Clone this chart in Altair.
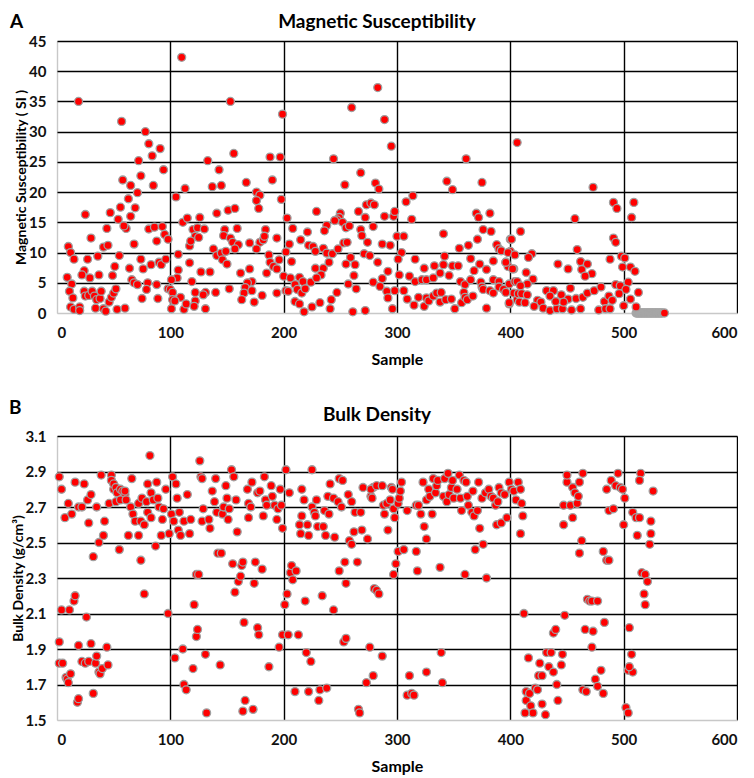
import altair as alt
import pandas as pd

# ---------------- Panel A: Magnetic Susceptibility (sample, value) ----------------
ms_0_100 = [(19,35),(57,31.7),(78,30),(81,28),(84,26),(91,27.2),(72,25.2),(94,23.7),(58,22),(74,22.7),(65,21.1),(85,21.1),
    (71,19.9),(63,18.9),(56,17.5),(69,17.4),(25,16.3),(47,16.6),(54,15.5),(65,16),(61,14),(59,14.4),(44,14),(30,12.4),
    (10,11),(12,10),(15,8.9),(27,8.9),(36,9.4),(41,10.9),(45,11.2),(55,9.5),(68,11.4),(81,13.9),(86,14.2),(93,14.3),
    (88,11.9),(95,13),(98,12.2),(74,8.9),(64,7.4),(83,8),(90,8.4),(92,8),(96,8.9),(24,7),(22,6.3),(37,6.3),(49,6.2),
    (51,7.7),(9,5.9),(13,4.8),(29,5.8),(66,5.5),(76,7.3),(68,5),(71,4.7),(80,5),(79,3.9),(88,4.7),(11,3.6),(14,2.5),
    (12,1),(15,0.6),(20,1),(20,0.4),(24,3.6),(25,2.8),(28,2.9),(31,3.6),(33,2.8),(35,2.2),(38,2.4),(39,3.6),(34,0.8),
    (41,0.7),(43,0.3),(46,1.8),(48,2.6),(50,3.3),(52,4),(53,0.6),(60,0.8),(75,2.4),(89,2.4)]
ms_100_200 = [(110,42.3),(105,19.2),(113,20.6),(133,25.2),(143,23.7),(156,26.4),(153,35),(137,20.9),(145,21.1),(167,21.6),
    (176,20),(179,19.5),(176,18.6),(178,17.3),(190,22),(188,25.8),(197,25.8),(199,32.9),(198,18.8),(141,16.5),(151,17),
    (157,17.3),(111,15),(115,15.7),(126,15.8),(120,13.8),(124,14.1),(130,13.9),(122,12.7),(117,11.1),(118,11.9),(125,12.5),
    (107,9.7),(117,8.3),(127,6.8),(135,6.8),(138,10.6),(148,13.8),(147,12.8),(153,12.4),(159,14),(155,11.7),(160,11.3),
    (157,10.6),(170,11.6),(179,11.7),(182,12.1),(184,13.8),(183,12.7),(194,12.4),(141,9.5),(145,9.9),(149,10.2),(146,8.8),
    (150,8.1),(162,6.6),(170,7.3),(176,10.6),(187,9.6),(188,8.4),(191,7.7),(194,7.3),(196,8.8),(185,6.6),(172,5.2),(168,5),
    (166,4.2),(165,3.3),(172,3.7),(163,2.2),(174,1.8),(181,2.9),(194,3.3),(152,4),(140,3.4),(131,3.4),(107,7.1),(106,5.8),
    (101,5.5),(98,4),(100,3.9),(102,3.4),(109,2.6),(102,2.2),(104,2),(101,0.7),(112,0.6),(114,1.5),(119,5.2),(122,3.4),
    (122,2),(121,1.1),(131,0.7),(129,3)]
ms_200_400 = [(260,34),(283,37.3),(289,32),(295,27.6),(244,25.5),(361,25.5),(406,28.2),(268,23.2),(254,21.2),(281,21.5),
    (284,20.5),(344,21.8),(349,20.4),(375,21.6),(229,16.8),(250,16.5),(249,15.8),(247,15.4),(266,16.8),(273,17.9),(277,18.2),
    (280,17.9),(272,15.8),(289,16),(297,16),(298,16.8),(308,18.4),(314,19.4),(313,15.5),(370,16.5),(372,15.8),(382,16.5),
    (203,15.7),(208,14),(221,13.4),(238,14.5),(236,13.6),(245,15.3),(252,15),(255,14.1),(258,14.4),(268,13.8),(269,12.8),
    (279,14.3),(253,11.6),(256,11.7),(274,11.7),(287,11.4),(294,11.2),(300,12.7),(306,12.7),(341,13.1),(376,13.8),(383,13.5),
    (355,10.7),(363,11.2),(371,12.2),(388,11.3),(390,10.6),(400,10.2),(400,12.2),(205,11.4),(202,10.1),(215,12.1),(222,11.2),
    (226,11),(228,10.2),(235,10.7),(238,9.9),(243,9.8),(248,10.6),(259,9.2),(271,9.8),(276,9.5),(304,10),(301,8.9),(207,8.5),
    (228,7.4),(235,7.4),(240,8.4),(255,8.1),(263,8),(283,8.4),(292,6.9),(316,8.9),(324,7.4),(333,7.8),(342,9.4),(341,8),
    (349,7.8),(354,7.8),(365,9),(373,8.1),(379,7.2),(385,8.6),(396,8.4),(398,7.7),(403,7.3),(200,6.1),(206,5.8),(214,5.9),
    (217,5.2),(224,5.1),(233,6.3),(229,5.8),(262,6.2),(287,5.7),(302,6.3),(311,6.1),(316,5.2),(322,5.5),(326,5.5),(332,5.8),
    (338,6.6),(346,6.2),(356,5.2),(360,4.7),(365,5.5),(368,7),(374,5.1),(385,5.5),(390,5.2),(399,4.8),(404,5.2),(202,3.7),
    (204,3.6),(210,4.7),(212,3.9),(216,3.3),(219,4),(210,1.9),(214,1.5),(218,0.2),(225,1),(232,1.7),(241,0.7),(242,2.2),
    (247,3.4),(257,4.8),(264,4),(261,0.2),(272,0.4),(279,5.1),(285,4.4),(291,3.6),(292,2.5),(296,0.7),(298,3.7),(306,3.7),
    (309,2.3),(315,1.3),(319,2.6),(324,1.1),(326,2.5),(328,2),(332,2.8),(335,3.3),(338,1.8),(339,3.4),(343,2.2),(348,2.3),
    (351,0.7),(357,1.7),(359,3.4),(360,2.6),(362,2.2),(367,2.8),(375,4.3),(376,3.9),(379,0.8),(382,3.7),(385,3.3),(390,4.3),
    (394,3.9),(399,1.5),(403,3.3),(406,2.2)]
ms_400_540 = [(473,20.8),(491,18.3),(494,17.3),(509,18.3),(457,15.6),(507,15.8),(409,13.5),(401,12.2),(491,12.4),(493,11.7),
    (459,10.5),(498,9.4),(501,9.1),(488,8.9),(392,10.3),(398,10),(404,9.6),(419,9.8),(416,9.2),(396,8.4),(402,7.3),(442,8.1),
    (451,7.3),(462,8.5),(468,8.1),(463,7.2),(472,6.5),(466,6.1),(499,7.6),(506,7.6),(510,6.9),(414,6.7),(420,5.6),(415,4.8),
    (406,5.2),(409,4.5),(396,3.4),(407,3.2),(410,3.2),(415,3),(424,2.1),(399,1.7),(408,1.8),(413,1.7),(427,1.8),(432,3.7),
    (438,3.7),(435,2.8),(445,3),(453,4.1),(451,2.3),(458,2.4),(464,2.6),(468,3.3),(474,3.7),(480,4.3),(483,1.9),(487,2.8),
    (490,2.1),(493,4.7),(497,4.5),(504,5.1),(502,3.9),(496,3.2),(506,2.3),(500,1.2),(513,3.4),(511,1),(429,0.8),(435,0.4),
    (441,0.7),(446,0.7),(454,0.5),(462,0.7),(478,0.5),(484,0.7),(488,0.7),(447,1.8),(440,1.9),(421,1.1),(536,0)]
ms_zero_samples = [511,512,513,514,515,516,517,518,519,520,521,522,523,524,525,526,527,528,529,530,531,532,533,534]

# ---------------- Panel B: Bulk Density (sample, g/cm3) ----------------
bd_0_100 = [(2,1.82),(2,1.94),(4,2.12),(5,1.82),(8,1.74),(9,1.73),(10,1.71),(11,2.12),(12,1.76),(15,2.17),(16,2.2),(18,1.6),
    (19,1.62),(19,1.92),(22,1.83),(25,1.82),(26,2.08),(28,1.83),(30,1.93),(32,1.65),(34,1.82),(35,1.86),(37,1.77),(38,1.76),
    (40,1.79),(44,1.91),(45,1.81),(2,2.87),(4,2.8),(7,2.64),(10,2.72),(13,2.66),(16,2.84),(19,2.7),(22,2.7),(24,2.83),(27,2.74),
    (28,2.61),(30,2.77),(32,2.42),(35,2.7),(37,2.5),(39,2.88),(42,2.62),(41,2.54),(46,2.72),(48,2.88),(48,2.85),(50,2.8),
    (50,2.83),(52,2.81),(53,2.78),(52,2.73),(56,2.8),(55,2.46),(58,2.79),(60,2.77),(56,2.74),(61,2.74),(60,2.79),(65,2.7),
    (66,2.86),(63,2.54),(67,2.66),(69,2.62),(72,2.72),(72,2.54),(74,2.4),(74,2.62),(75,2.75),(77,2.6),(77,2.21),(79,2.73),
    (80,2.67),(82,2.99),(80,2.83),(83,2.64),(83,2.78),(87,2.48),(85,2.74),(88,2.84),(89,2.75),(90,2.7),(92,2.54),(94,2.69),
    (96,2.8),(93,2.63),(98,2.1),(99,2.55)]
bd_100_200 = [(101,2.66),(102,2.87),(103,2.62),(104,1.85),(105,2.83),(106,2.75),(108,2.67),(107,2.57),(109,2.54),(111,1.9),
    (112,1.7),(114,1.67),(112,2.62),(115,2.77),(117,2.55),(118,2.63),(120,1.79),(121,2.15),(123,2.32),(125,2.32),(123,1.97),
    (124,2.01),(126,2.96),(127,2.87),(128,2.62),(129,2.69),(128,2.86),(131,1.87),(132,1.54),(134,2.63),(135,2.58),(137,2.79),
    (139,2.73),(140,2.86),(141,2.67),(144,1.81),(142,2.44),(145,2.44),(146,2.66),(147,2.7),(149,2.82),(150,2.75),(151,2.63),
    (152,2.69),(154,2.91),(155,2.38),(156,2.87),(158,2.74),(159,2.56),(157,2.22),(160,2.28),(162,2.31),(163,2.37),(164,2.39),
    (164,1.55),(165,2.05),(166,1.61),(168,2.8),(169,2.72),(171,2.7),(172,2.84),(169,2.64),(174,2.27),(175,2.39),(173,1.56),
    (177,2.78),(177,2.02),(178,1.98),(179,2.79),(181,2.35),(182,2.65),(183,2.87),(184,2.74),(185,2.71),(187,1.8),(189,2.82),
    (190,2.76),(192,2.71),(194,2.63),(195,2.69),(196,1.91),(197,2.8),(198,2.71),(199,2.58),(199,1.98)]
bd_200_300 = [(201,2.15),(202,2.91),(203,2.21),(204,1.98),(205,2.78),(206,2.33),(207,2.37),(208,2.29),(210,1.66),(211,2.34),
    (213,1.98),(214,2.6),(215,2.55),(216,2.65),(216,2.8),(218,2.74),(219,2.17),(220,1.88),(221,2.6),(222,2.54),(222,1.66),
    (224,1.83),(225,2.91),(225,2.7),(227,2.67),(228,2.65),(229,2.74),(230,2.59),(231,1.61),(232,1.67),(234,2.2),(235,2.59),
    (236,2.68),(237,2.54),(238,1.68),(239,2.76),(240,2.66),(241,2.83),(244,2.12),(244,2.75),(245,2.53),(248,2.73),(249,2.34),
    (249,2.86),(252,2.85),(251,2.7),(253,1.94),(254,2.39),(255,1.96),(255,2.27),(257,2.77),(258,2.51),(260,2.49),(260,2.73),
    (262,2.56),(263,2.67),(265,2.39),(266,1.56),(267,1.54),(268,2.67),(269,2.57),(270,2.81),(273,1.71),(274,2.52),(276,1.91),
    (277,2.76),(279,1.75),(279,2.81),(280,2.24),(282,2.23),(284,2.21),(287,1.86),(277,2.8),(282,2.82),(287,2.82),(278,2.75),
    (288,2.71),(289,2.66),(291,2.72),(292,2.57),(294,2.74),(295,2.81),(296,2.8),(298,2.64),(297,2.69)]
bd_300_400 = [(301,2.72),(302,2.75),(303,2.79),(304,2.84),(301,2.45),(306,2.46),(299,2.38),(297,2.32),(309,2.68),(311,1.75),
    (309,1.64),(313,1.65),(315,1.64),(317,2.45),(318,2.34),(317,2.71),(319,2.71),(321,2.66),(323,2.84),(324,2.59),(326,2.74),
    (326,2.52),(326,1.77),(328,2.8),(329,2.76),(331,2.66),(332,2.86),(334,2.78),(335,2.82),(336,2.85),(338,2.36),(339,1.88),
    (340,1.71),(341,2.76),(342,2.86),(344,2.73),(345,2.89),(346,2.77),(348,2.81),(349,2.85),(350,2.75),(353,2.8),(355,2.88),
    (356,2.75),(357,2.68),(360,2.32),(359,2.85),(361,2.84),(362,2.76),(363,2.71),(366,2.67),(367,2.79),(368,2.65),(369,2.46),
    (372,2.84),(371,2.68),(373,2.58),(375,2.75),(376,2.49),(378,2.78),(379,2.3),(381,2.8),(383,2.76),(385,2.75),(387,2.71),
    (388,2.6),(389,2.73),(390,2.81),(392,2.78),(392,2.61),(395,2.77),(397,2.64),(399,2.84)]
bd_400_530 = [(401,2.8),(403,2.79),(405,2.74),(407,2.84),(409,2.8),(410,2.72),(411,2.65),(409,2.55),(412,2.1),(414,1.66),
    (416,1.85),(414,1.61),(417,1.65),(418,1.58),(420,1.54),(413,1.54),(422,1.68),(424,1.67),(426,1.82),(428,1.59),(425,1.75),
    (428,1.75),(431,1.53),(432,1.88),(434,1.8),(436,1.88),(438,1.77),(438,1.99),(440,2.01),(441,1.7),(442,1.61),(445,1.81),
    (446,1.87),(447,2.6),(447,2.71),(448,2.09),(450,2.84),(450,2.88),(453,2.71),(455,2.64),(455,2.81),(457,2.78),(459,2.72),
    (460,2.76),(461,2.84),(464,2.89),(463,2.51),(461,2.44),(466,2.01),(468,2.18),(470,2.17),(472,2.17),(473,2),(472,1.91),
    (464,1.67),(467,1.66),(475,1.73),(477,1.69),(477,2.17),(480,1.78),(482,2.45),(482,1.65),(483,2.05),(485,2.4),(487,2.4),
    (487,2.68),(485,2.8),(489,2.85),(491,2.69),(493,2.82),(495,2.89),(497,2.81),(499,2.8),(501,2.75),(500,2.6),(502,1.57),
    (504,1.54),(505,2.02),(507,1.87),(504,1.78),(508,1.77),(505,1.8),(508,2.67),(511,2.64),(512,2.54),(514,2.64),(515,2.89),
    (516,2.33),(519,2.32),(521,2.28),(518,2.21),(519,2.15),(523,2.49),(524,2.55),(524,2.62),(526,2.79),(514,2.85)]

x_ticks = [0, 100, 200, 300, 400, 500, 600]
ms_ticks = [0, 5, 10, 15, 20, 25, 30, 35, 40, 45]
bd_ticks = [1.5, 1.7, 1.9, 2.1, 2.3, 2.5, 2.7, 2.9, 3.1]

ms_df = pd.DataFrame(ms_0_100 + ms_100_200 + ms_200_400 + ms_400_540, columns=["x", "y"])
ms_zero_df = pd.DataFrame({"x": ms_zero_samples, "y": [0] * len(ms_zero_samples)})
bd_df = pd.DataFrame(bd_0_100 + bd_100_200 + bd_200_300 + bd_300_400 + bd_400_530, columns=["x", "y"])

FONT = "Lato"
GRID = {"condition": {"test": "datum.value === 0 || datum.value === 1.5", "value": "#c8c8c8"}, "value": "#000000"}


def axis(vals, title, fmt, lpad, tpad, tsize):
    kw = dict(values=vals, title=title, grid=True, gridColor=GRID, gridWidth=1.4, gridOpacity=1,
              domain=False, ticks=False, labelFont=FONT, labelFontSize=15, labelFontWeight="bold",
              labelColor="#111111", labelPadding=lpad, titleFont=FONT, titleFontSize=tsize,
              titleFontWeight="bold", titleColor="#000000", titlePadding=tpad)
    if fmt:
        kw["format"] = fmt
    return alt.Axis(**kw)


def panel(df, ydom, yvals, ytitle, title, letter, fmt, h, lx, ly, ty, zero_df=None):
    xenc = alt.X("x:Q", scale=alt.Scale(domain=[0, 600], nice=False),
                 axis=axis(x_ticks, "Sample", None, 12, 11, 16))
    yenc = alt.Y("y:Q", scale=alt.Scale(domain=ydom, nice=False, zero=False),
                 axis=axis(yvals, ytitle, fmt, 11, 0, 14))
    layers = []
    if zero_df is not None:
        layers.append(alt.Chart(zero_df).mark_circle(size=64, fill="#a6a6a6", stroke="#a6a6a6",
                                                     strokeWidth=1.3, opacity=1).encode(x=xenc, y=yenc))
    layers.append(alt.Chart(df).mark_circle(size=64, fill="#ff0000", stroke="#a0a0a0", strokeWidth=1.3,
                                            opacity=1, fillOpacity=1).encode(x=xenc, y=yenc))
    txt = pd.DataFrame({"t": [letter, title], "kind": ["letter", "title"]})
    layers.append(alt.Chart(txt).transform_filter("datum.kind === 'letter'").mark_text(
        font=FONT, fontSize=19, fontWeight="bold", align="left", baseline="top", color="#000000"
    ).encode(text="t:N", x=alt.value(lx), y=alt.value(ly)))
    layers.append(alt.Chart(txt).transform_filter("datum.kind === 'title'").mark_text(
        font=FONT, fontSize=19, fontWeight="bold", align="center", baseline="top", color="#000000"
    ).encode(text="t:N", x=alt.value(320), y=alt.value(ty)))
    return alt.layer(*layers).properties(width=680, height=h)


pa = panel(ms_df, [0, 45], ms_ticks, "Magnetic Susceptibility ( SI )", "Magnetic Susceptibility", "A",
           None, 272, -47, -28, -28, ms_zero_df)
pb = panel(bd_df, [1.5, 3.1], bd_ticks, "Bulk Density (g/cm³)", "Bulk Density", "B", ".1f", 284, -48, -37, -30)

chart = alt.vconcat(pa, pb, spacing=30).properties(
    padding={"left": 0, "top": 4, "right": 0, "bottom": 0}
).configure_view(stroke=None).configure(background="white")

chart.save("out.html", embed_options={"renderer": "svg", "actions": False})
